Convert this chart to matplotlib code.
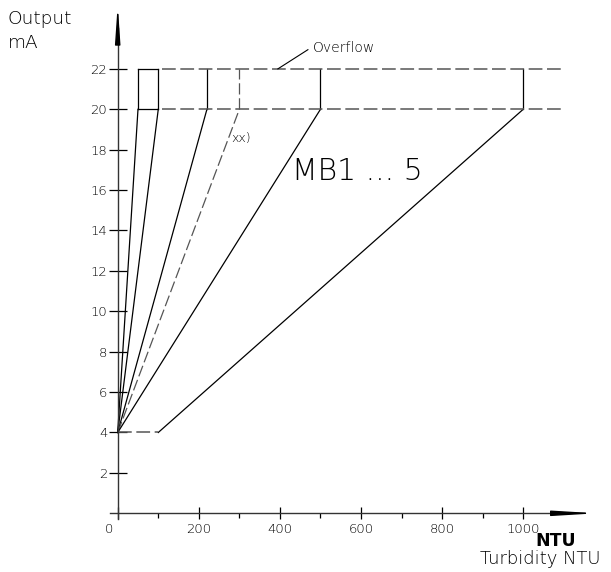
import matplotlib
matplotlib.use("Agg")
import matplotlib.pyplot as plt
import matplotlib.transforms as mtransforms
from matplotlib import font_manager
from matplotlib.font_manager import FontProperties

# ---- data ----
start_x = [0, 0, 0, 0, 0, 100]          # NTU where each range line leaves the 4 mA level
end_x = [50, 100, 220, 300, 500, 1000]  # NTU at 20 mA for each range
dashed = [False, False, False, True, False, False]
low_mA = 4
full_mA = 20
overflow_mA = 22
x_ticks = [0, 200, 400, 600, 800, 1000]
x_minor = [100, 300, 500, 700, 900]
y_ticks = [2, 4, 6, 8, 10, 12, 14, 16, 18, 20, 22]
x_end = 1100

# a thin lettering similar to the drawing font
light_file = None
for f in font_manager.fontManager.ttflist:
    if 'DejaVuSans-ExtraLight' in f.fname:
        light_file = f.fname
        break


def fp(size):
    if light_file:
        return FontProperties(fname=light_file, size=size)
    return FontProperties(family='DejaVu Sans', size=size)


txt_c = '#333333' if light_file is None else '#000000'

fig = plt.figure(figsize=(6.11, 5.72), dpi=100)
ax = fig.add_axes([0, 0, 1, 1])
ax.set_xlim(-290.3, 1216.5)
ax.set_ylim(-2.906, 25.41)
ax.patch.set_alpha(0)

solid_c = 'black'
dash_c = '#555555'
dash_style = (0, (9, 3))
lw = 0.9

for sx, ex, d in zip(start_x, end_x, dashed):
    ax.plot([sx, ex], [low_mA, full_mA], color=dash_c if d else solid_c,
            lw=lw, linestyle=dash_style if d else '-')
    ax.plot([ex, ex], [full_mA, overflow_mA], color=dash_c if d else solid_c,
            lw=lw, linestyle=dash_style if d else '-')

# baseline dashed segment at 4 mA
ax.plot([0, start_x[-1]], [low_mA, low_mA], color=dash_c, lw=1.1, linestyle=dash_style)
# first box top/bottom solid, then dashed limits
for yv in (full_mA, overflow_mA):
    ax.plot([end_x[0], end_x[1]], [yv, yv], color=solid_c, lw=lw)
    ax.plot([end_x[1] + 10, x_end], [yv, yv], color=dash_c, lw=1.1, linestyle=dash_style)

# axes as spines
for s in ('top', 'right'):
    ax.spines[s].set_visible(False)
ax.spines['left'].set_position(('data', 0))
ax.spines['bottom'].set_position(('data', 0))
ax.spines['left'].set_bounds(-0.3, 24.0)
ax.spines['bottom'].set_bounds(-20, 1100)
for s in ('left', 'bottom'):
    ax.spines[s].set_color('#333333')
    ax.spines[s].set_linewidth(1.0)

# arrowheads
ax.annotate('', xy=(0, 25.2), xytext=(0, 23.4),
            arrowprops=dict(arrowstyle='-|>,head_length=2.2,head_width=0.15',
                            color='black', lw=1.0, shrinkA=0, shrinkB=0))
ax.annotate('', xy=(1182, 0), xytext=(1090, 0),
            arrowprops=dict(arrowstyle='-|>,head_length=2.5,head_width=0.15',
                            color='black', lw=1.0, shrinkA=0, shrinkB=0))

ax.set_yticks(y_ticks)
ax.set_yticklabels([str(v) for v in y_ticks])
ax.set_xticks(x_ticks)
ax.set_xticklabels([str(v) for v in x_ticks])
ax.set_xticks(x_minor, minor=True)
ax.tick_params(axis='y', direction='inout', length=13, width=0.9, pad=1, colors='black')
ax.tick_params(axis='x', which='major', direction='inout', length=8, width=0.9, pad=3,
               colors='black')
ax.tick_params(axis='x', which='minor', direction='out', length=3.5, width=0.9)
for lab in ax.get_yticklabels() + ax.get_xticklabels():
    lab.set_fontproperties(fp(9.5))
    lab.set_color(txt_c)
xl = ax.get_xticklabels()
xl[0].set_transform(xl[0].get_transform() +
                    mtransforms.ScaledTranslation(-9 / 100, 0, fig.dpi_scale_trans))

# texts
ax.text(-271, 24.47, 'Output', fontproperties=fp(13.3), va='center', ha='left', color=txt_c)
ax.text(-271, 23.28, 'mA', fontproperties=fp(13.3), va='center', ha='left', color=txt_c)
ax.plot([395, 469], [22.0, 22.95], color='black', lw=0.8)
ax.text(482, 23.05, 'Overflow', fontproperties=fp(10), va='center', ha='left', color=txt_c)
ax.text(281, 18.6, 'xx)', fontproperties=fp(9), va='center', ha='left', color=txt_c)
ax.text(430, 16.9, 'MB1 ... 5', fontproperties=fp(21.5), va='center', ha='left', color=txt_c)
ax.text(1030, -1.35, 'NTU', fontsize=12.5, fontweight='bold', va='center', ha='left',
        family='DejaVu Sans', color='black')
ax.text(893, -2.25, 'Turbidity NTU', fontproperties=fp(13), va='center', ha='left',
        color=txt_c)

fig.savefig('out.png', dpi=100)
